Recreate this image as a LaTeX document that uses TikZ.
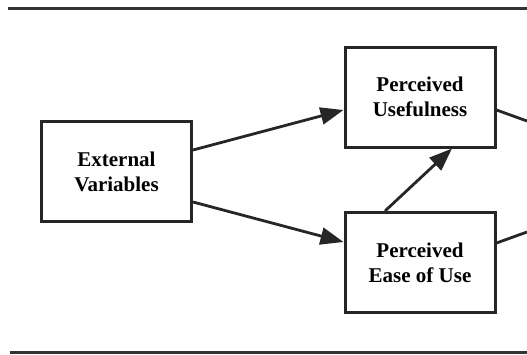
\documentclass[tikz,border=0pt]{standalone}
\usepackage{fontspec}
\setmainfont{Liberation Serif}
\usetikzlibrary{arrows.meta}
\begin{document}
\begin{tikzpicture}[x=1pt,y=-1pt,
  box/.style={draw=black!85,line width=3pt,minimum width=150pt,minimum height=100pt,
    align=center,inner sep=0pt,font=\fontsize{21}{25}\selectfont\bfseries},
  conn/.style={draw=black!85,line width=2.8pt},
  arr/.style={conn,-{Triangle[length=23pt,width=17pt]}},
  rule/.style={draw=black!80,line width=2.6pt}]
\useasboundingbox (0,0) rectangle (527,354);
\node[box] (ev) at (116.5,171.5) {External\\Variables};
\node[box] (pu) at (420,97) {Perceived\\Usefulness};
\node[box] (pe) at (420,262.5) {Perceived\\Ease of Use};
\coordinate (t1) at (8,8.5);
\coordinate (t2) at (527,8.5);
\coordinate (b1) at (10,352.5);
\coordinate (b2) at (527,352.5);
\coordinate (o1) at (527,121);
\coordinate (o2) at (527,232);
\draw[rule] (t1) -- (t2);
\draw[rule] (b1) -- (b2);
\draw[arr] (ev.east |- 0,150) -- (pu.west |- 0,110);
\draw[arr] (ev.east |- 0,202) -- (pe.west |- 0,242);
\draw[arr] (pe.north -| 385,0) -- (pu.south -| 452,0);
\draw[conn] (pu.east |- 0,110) -- (o1);
\draw[conn] (pe.east |- 0,243) -- (o2);
\end{tikzpicture}
\end{document}
